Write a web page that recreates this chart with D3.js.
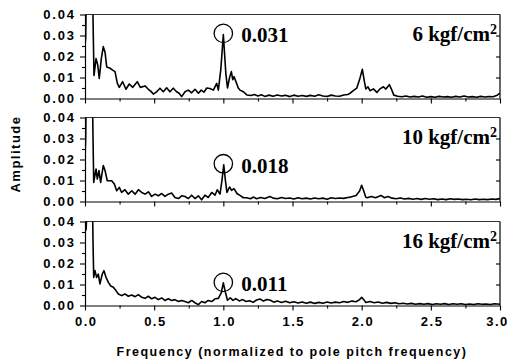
<!DOCTYPE html>
<html>
<head>
<meta charset="utf-8">
<script src="https://cdn.jsdelivr.net/npm/d3@7"></script>
<style>
  body { margin: 0; background: #fff; }
  svg { display: block; }
</style>
</head>
<body>
<div id="chart"></div>
<script>
// spectra: [frequency (normalized), amplitude in units of 1e-3]
var spec6 = [[0,25],[0.005,29],[0.01,55],[0.02,90],[0.035,95],[0.05,70],[0.06,30],[0.065,11],[0.08,19],[0.092,16],[0.103,9.6],
  [0.118,19],[0.132,24.7],[0.145,22],[0.157,15],[0.181,14.4],[0.2,13.5],[0.217,12.8],[0.234,7.2],[0.248,5.3],[0.272,8],
  [0.296,4.4],[0.32,6.9],[0.345,5.3],[0.378,8],[0.40,5.3],[0.434,6],[0.458,4.4],[0.475,3.5],[0.494,2.1],[0.515,3],
  [0.542,4.9],[0.566,3.2],[0.59,5.1],[0.614,3.2],[0.638,4.9],[0.662,3.2],[0.68,2.5],[0.699,0.9],[0.723,3.2],[0.747,4],
  [0.771,2.7],[0.795,4.4],[0.82,2.5],[0.84,4],[0.86,3],[0.88,5],[0.904,4.8],[0.928,4],[0.952,7.2],[0.964,4],[0.982,14],
  [1.0,30.5],[1.018,12],[1.03,5],[1.045,10],[1.058,12.8],[1.068,9],[1.077,10.4],[1.096,7.2],[1.108,5],[1.12,4],[1.145,3.2],
  [1.17,1.7],[1.2,1.4],[1.225,1.9],[1.25,1.2],[1.275,1.8],[1.3,1.0],[1.33,1.6],[1.36,1.1],[1.39,1.7],[1.42,1.2],[1.45,1.5],
  [1.48,0.9],[1.51,1.6],[1.54,1.1],[1.57,1.4],[1.6,1.0],[1.63,1.5],[1.66,1.1],[1.69,1.8],[1.72,1.2],[1.75,1.0],[1.78,1.6],
  [1.81,1.2],[1.84,1.1],[1.87,1.7],[1.9,1.9],[1.916,2.5],[1.94,3.7],[1.964,4.9],[1.985,9],[2.005,13.9],[2.02,8],[2.03,4.6],
  [2.045,5.6],[2.06,3.7],[2.085,4.6],[2.11,2.9],[2.133,4.6],[2.157,5.6],[2.175,4.5],[2.2,6.6],[2.215,4.5],[2.232,1.6],
  [2.26,1.1],[2.29,0.8],[2.32,1.2],[2.35,0.7],[2.38,1.0],[2.41,0.7],[2.44,1.2],[2.47,0.6],[2.5,0.9],[2.53,0.6],[2.56,1.0],
  [2.59,0.7],[2.62,0.9],[2.65,0.6],[2.68,1.0],[2.71,0.7],[2.74,1.2],[2.77,0.7],[2.8,0.9],[2.83,0.6],[2.86,1.0],[2.89,0.7],
  [2.92,0.9],[2.95,0.8],[2.98,1.6],[3.0,2.6]];

var spec10 = [[0,21],[0.005,30],[0.01,60],[0.02,90],[0.035,95],[0.05,70],[0.058,30],[0.063,9.1],[0.08,15.5],[0.089,10.7],
  [0.101,14.7],[0.113,9.1],[0.132,17.1],[0.145,14.7],[0.161,9.9],[0.193,9.9],[0.212,8.3],[0.229,5.1],[0.248,6.7],[0.265,4.3],
  [0.289,5.6],[0.313,3.5],[0.338,5.1],[0.362,3.5],[0.386,5.6],[0.41,4.3],[0.434,3.5],[0.458,4.6],[0.482,2.4],[0.506,3.5],
  [0.53,2.7],[0.554,3.8],[0.578,2.4],[0.602,3.5],[0.626,4],[0.65,1.9],[0.675,1.4],[0.699,2.7],[0.723,2.4],[0.747,1.4],
  [0.771,3],[0.795,1.4],[0.819,2.7],[0.843,0.8],[0.867,3],[0.891,1.9],[0.916,4.3],[0.94,3],[0.956,5.6],[0.976,3.5],
  [0.99,10],[1.003,17.5],[1.015,10],[1.026,4.3],[1.045,6.9],[1.06,5.3],[1.077,6.1],[1.1,3.7],[1.12,2.9],[1.145,1.8],
  [1.17,1.8],[1.195,1.3],[1.22,2.1],[1.24,1.3],[1.27,1.9],[1.3,1.4],[1.337,2.4],[1.36,1.6],[1.39,1.3],[1.42,1.9],[1.45,1.4],
  [1.48,1.7],[1.51,1.2],[1.54,1.8],[1.57,1.3],[1.6,1.6],[1.63,1.2],[1.66,1.7],[1.69,1.3],[1.72,1.6],[1.75,1.1],[1.78,1.8],
  [1.81,1.4],[1.84,1.7],[1.87,1.5],[1.9,1.9],[1.92,2.1],[1.96,2.9],[1.985,5],[2.0,7.7],[2.015,5],[2.03,2],[2.04,1.8],
  [2.07,2.4],[2.1,1.8],[2.14,2.9],[2.165,1.8],[2.19,2.4],[2.22,1.6],[2.25,1.3],[2.28,1.7],[2.31,1.2],[2.34,1.5],[2.37,1.1],
  [2.4,1.4],[2.43,1.0],[2.46,1.4],[2.49,1.1],[2.52,1.3],[2.55,0.9],[2.58,1.2],[2.61,0.9],[2.64,1.3],[2.67,1.0],[2.7,1.2],
  [2.73,0.9],[2.76,1.1],[2.79,0.8],[2.82,1.2],[2.85,0.9],[2.88,1.1],[2.91,0.9],[2.94,1.2],[2.97,1.0],[3.0,1.4]];

var spec16 = [[0,37],[0.004,40],[0.008,36],[0.012,42],[0.02,80],[0.035,95],[0.05,70],[0.058,30],[0.063,13.4],[0.072,16.6],
  [0.084,13.4],[0.096,15],[0.108,10.3],[0.125,15],[0.137,16.6],[0.152,13.4],[0.169,11],[0.186,9.3],[0.205,8.7],[0.224,7.1],
  [0.241,5.5],[0.265,4.7],[0.289,5.5],[0.313,4.4],[0.338,5],[0.362,4.2],[0.386,5.2],[0.41,3.9],[0.434,3.4],[0.458,4.4],
  [0.482,3.2],[0.506,3.9],[0.53,2.8],[0.554,3.6],[0.578,2.4],[0.602,3.2],[0.626,2.4],[0.65,2.8],[0.675,1.9],[0.699,2.4],
  [0.723,1.9],[0.747,1.3],[0.771,2.4],[0.795,1.3],[0.819,0.4],[0.843,1.9],[0.867,1.3],[0.891,2.4],[0.916,1.9],[0.94,3.2],
  [0.964,3.4],[0.985,6],[1.0,10.8],[1.015,6.3],[1.03,2.5],[1.05,3.6],[1.07,2.4],[1.09,3.3],[1.115,2.2],[1.14,2.8],
  [1.165,1.9],[1.19,2.3],[1.215,1.5],[1.24,2.6],[1.265,3.1],[1.29,2.1],[1.315,2.9],[1.34,2.5],[1.365,1.6],[1.39,2.2],
  [1.42,1.4],[1.45,2.0],[1.48,1.3],[1.51,1.8],[1.54,1.2],[1.57,1.7],[1.6,1.1],[1.63,1.6],[1.66,1.0],[1.69,1.5],[1.72,1.1],
  [1.75,1.7],[1.78,1.2],[1.81,1.6],[1.84,1.3],[1.87,1.9],[1.9,1.5],[1.93,2.1],[1.96,1.8],[1.985,2.8],[2.0,3.9],[2.015,2.8],
  [2.03,1.4],[2.06,1.9],[2.09,1.3],[2.12,1.7],[2.15,1.1],[2.18,1.5],[2.21,1.0],[2.24,1.3],[2.27,0.8],[2.3,1.1],[2.33,0.7],
  [2.36,1.0],[2.39,0.6],[2.42,0.9],[2.45,0.6],[2.48,0.9],[2.51,0.5],[2.54,0.8],[2.57,0.6],[2.6,0.9],[2.63,0.5],[2.66,0.8],
  [2.69,0.6],[2.72,0.8],[2.75,0.5],[2.78,0.7],[2.81,0.5],[2.84,0.8],[2.87,0.6],[2.9,0.7],[2.93,0.5],[2.96,0.8],[3.0,0.6]];

var pressures = ["6", "10", "16"];          // kgf/cm2
var peakValues = [0.031, 0.018, 0.011];      // amplitude at pole pitch frequency
var freqTicks = [0, 0.5, 1, 1.5, 2, 2.5, 3];
var freqMinor = [0.25, 0.75, 1.25, 1.75, 2.25, 2.75];
var ampTicks = [0, 0.01, 0.02, 0.03, 0.04];
var ampMinor = [0.005, 0.015, 0.025, 0.035];
var spectra = [spec6, spec10, spec16];

var width = 511, height = 364;
var panelTops = [14.5, 117.5, 221.5], panelH = 84;
var sans = "'Liberation Sans', Arial, sans-serif";
var serif = "'Liberation Serif', 'Times New Roman', serif";

var svg = d3.select("#chart").append("svg")
  .attr("width", width).attr("height", height);

var x = d3.scaleLinear().domain([0, 3]).range([85, 500]);

spectra.forEach(function(spec, i) {
  var top = panelTops[i];
  var y = d3.scaleLinear().domain([0, 0.04]).range([top + panelH, top]);
  var g = svg.append("g");

  // clip so the low-frequency spike leaves through the top
  svg.append("clipPath").attr("id", "clip" + i)
    .append("rect").attr("x", x(0)).attr("y", top)
    .attr("width", x(3) - x(0)).attr("height", panelH + 1);

  // frame: top and right
  g.append("line").attr("x1", x(0)).attr("x2", x(3)).attr("y1", top).attr("y2", top)
    .attr("stroke", "#333").attr("stroke-width", 1);
  g.append("line").attr("x1", x(3)).attr("x2", x(3)).attr("y1", top).attr("y2", top + panelH)
    .attr("stroke", "#000").attr("stroke-width", 1.2);

  // right axis ticks pointing inward
  g.append("g").attr("transform", "translate(" + x(3) + ",0)")
    .call(d3.axisLeft(y).tickValues(ampTicks.slice(1, 4)).tickSize(4).tickSizeOuter(0).tickFormat(""))
    .call(function(a) { a.select(".domain").remove(); });

  // left minor ticks
  g.append("g").attr("transform", "translate(" + x(0) + ",0)")
    .call(d3.axisLeft(y).tickValues(ampMinor).tickSize(3).tickSizeOuter(0).tickFormat(""))
    .call(function(a) { a.select(".domain").remove(); });

  // left axis
  var left = g.append("g").attr("transform", "translate(" + x(0) + ",0)")
    .call(d3.axisLeft(y).tickValues(ampTicks).tickSize(5).tickSizeOuter(0)
      .tickPadding(6).tickFormat(d3.format(".2f")));
  left.selectAll("text")
    .attr("font-family", sans).attr("font-weight", "bold").attr("font-size", "13px")
    .attr("letter-spacing", "1.8px").attr("dx", "1.8px").attr("fill", "#000");

  // bottom minor ticks
  g.append("g").attr("transform", "translate(0," + (top + panelH) + ")")
    .call(d3.axisBottom(x).tickValues(freqMinor).tickSize(3).tickSizeOuter(0).tickFormat(""))
    .call(function(a) { a.select(".domain").remove(); });

  // bottom axis
  var bottom = g.append("g").attr("transform", "translate(0," + (top + panelH) + ")")
    .call(d3.axisBottom(x).tickValues(freqTicks).tickSize(5).tickSizeOuter(0).tickPadding(6)
      .tickFormat(i == 2 ? d3.format(".1f") : ""));
  bottom.selectAll("text")
    .attr("font-family", sans).attr("font-weight", "bold").attr("font-size", "13px")
    .attr("letter-spacing", "1.5px").attr("dx", "0.75px").attr("fill", "#000");
  // keep the last label inside the window
  bottom.selectAll(".tick:last-of-type text").attr("dx", "-3px");

  g.selectAll(".domain").attr("stroke-width", 1.2);
  g.selectAll(".tick line").attr("stroke-width", 1.1);

  // spectrum
  var line = d3.line()
    .x(function(d) { return x(d[0]); })
    .y(function(d) { return y(d[1] / 1000); });

  g.append("path")
    .datum(spec)
    .attr("clip-path", "url(#clip" + i + ")")
    .attr("fill", "none")
    .attr("stroke", "#000")
    .attr("stroke-width", 1.6)
    .attr("stroke-linejoin", "round")
    .attr("d", line);

  // circled peak at the pole pitch frequency
  g.append("circle")
    .attr("cx", x(1)).attr("cy", y(peakValues[i]))
    .attr("r", 9.2)
    .attr("fill", "none").attr("stroke", "#000").attr("stroke-width", 1.3);

  g.append("text")
    .attr("x", x(1) + 18).attr("y", y(peakValues[i]) + 9)
    .attr("font-family", serif).attr("font-weight", "bold").attr("font-size", "21px")
    .text(d3.format(".3f")(peakValues[i]));

  var label = g.append("text")
    .attr("x", 497).attr("y", top + 26.5)
    .attr("text-anchor", "end")
    .attr("font-family", serif).attr("font-weight", "bold").attr("font-size", "21px")
    .text(pressures[i] + " kgf/cm");
  label.append("tspan").attr("dy", "-7").attr("font-size", "14px").text("2");
});

// axis titles
svg.append("text")
  .attr("transform", "translate(19.5," + 154 + ") rotate(-90)")
  .attr("text-anchor", "middle")
  .attr("font-family", sans).attr("font-weight", "bold").attr("font-size", "13px")
  .attr("letter-spacing", "1.5px")
  .text("Amplitude");

svg.append("text")
  .attr("x", 292).attr("y", 356)
  .attr("text-anchor", "middle")
  .attr("font-family", sans).attr("font-weight", "bold").attr("font-size", "12.5px")
  .attr("letter-spacing", "1.5px")
  .text("Frequency (normalized to pole pitch frequency)");
</script>
</body>
</html>
